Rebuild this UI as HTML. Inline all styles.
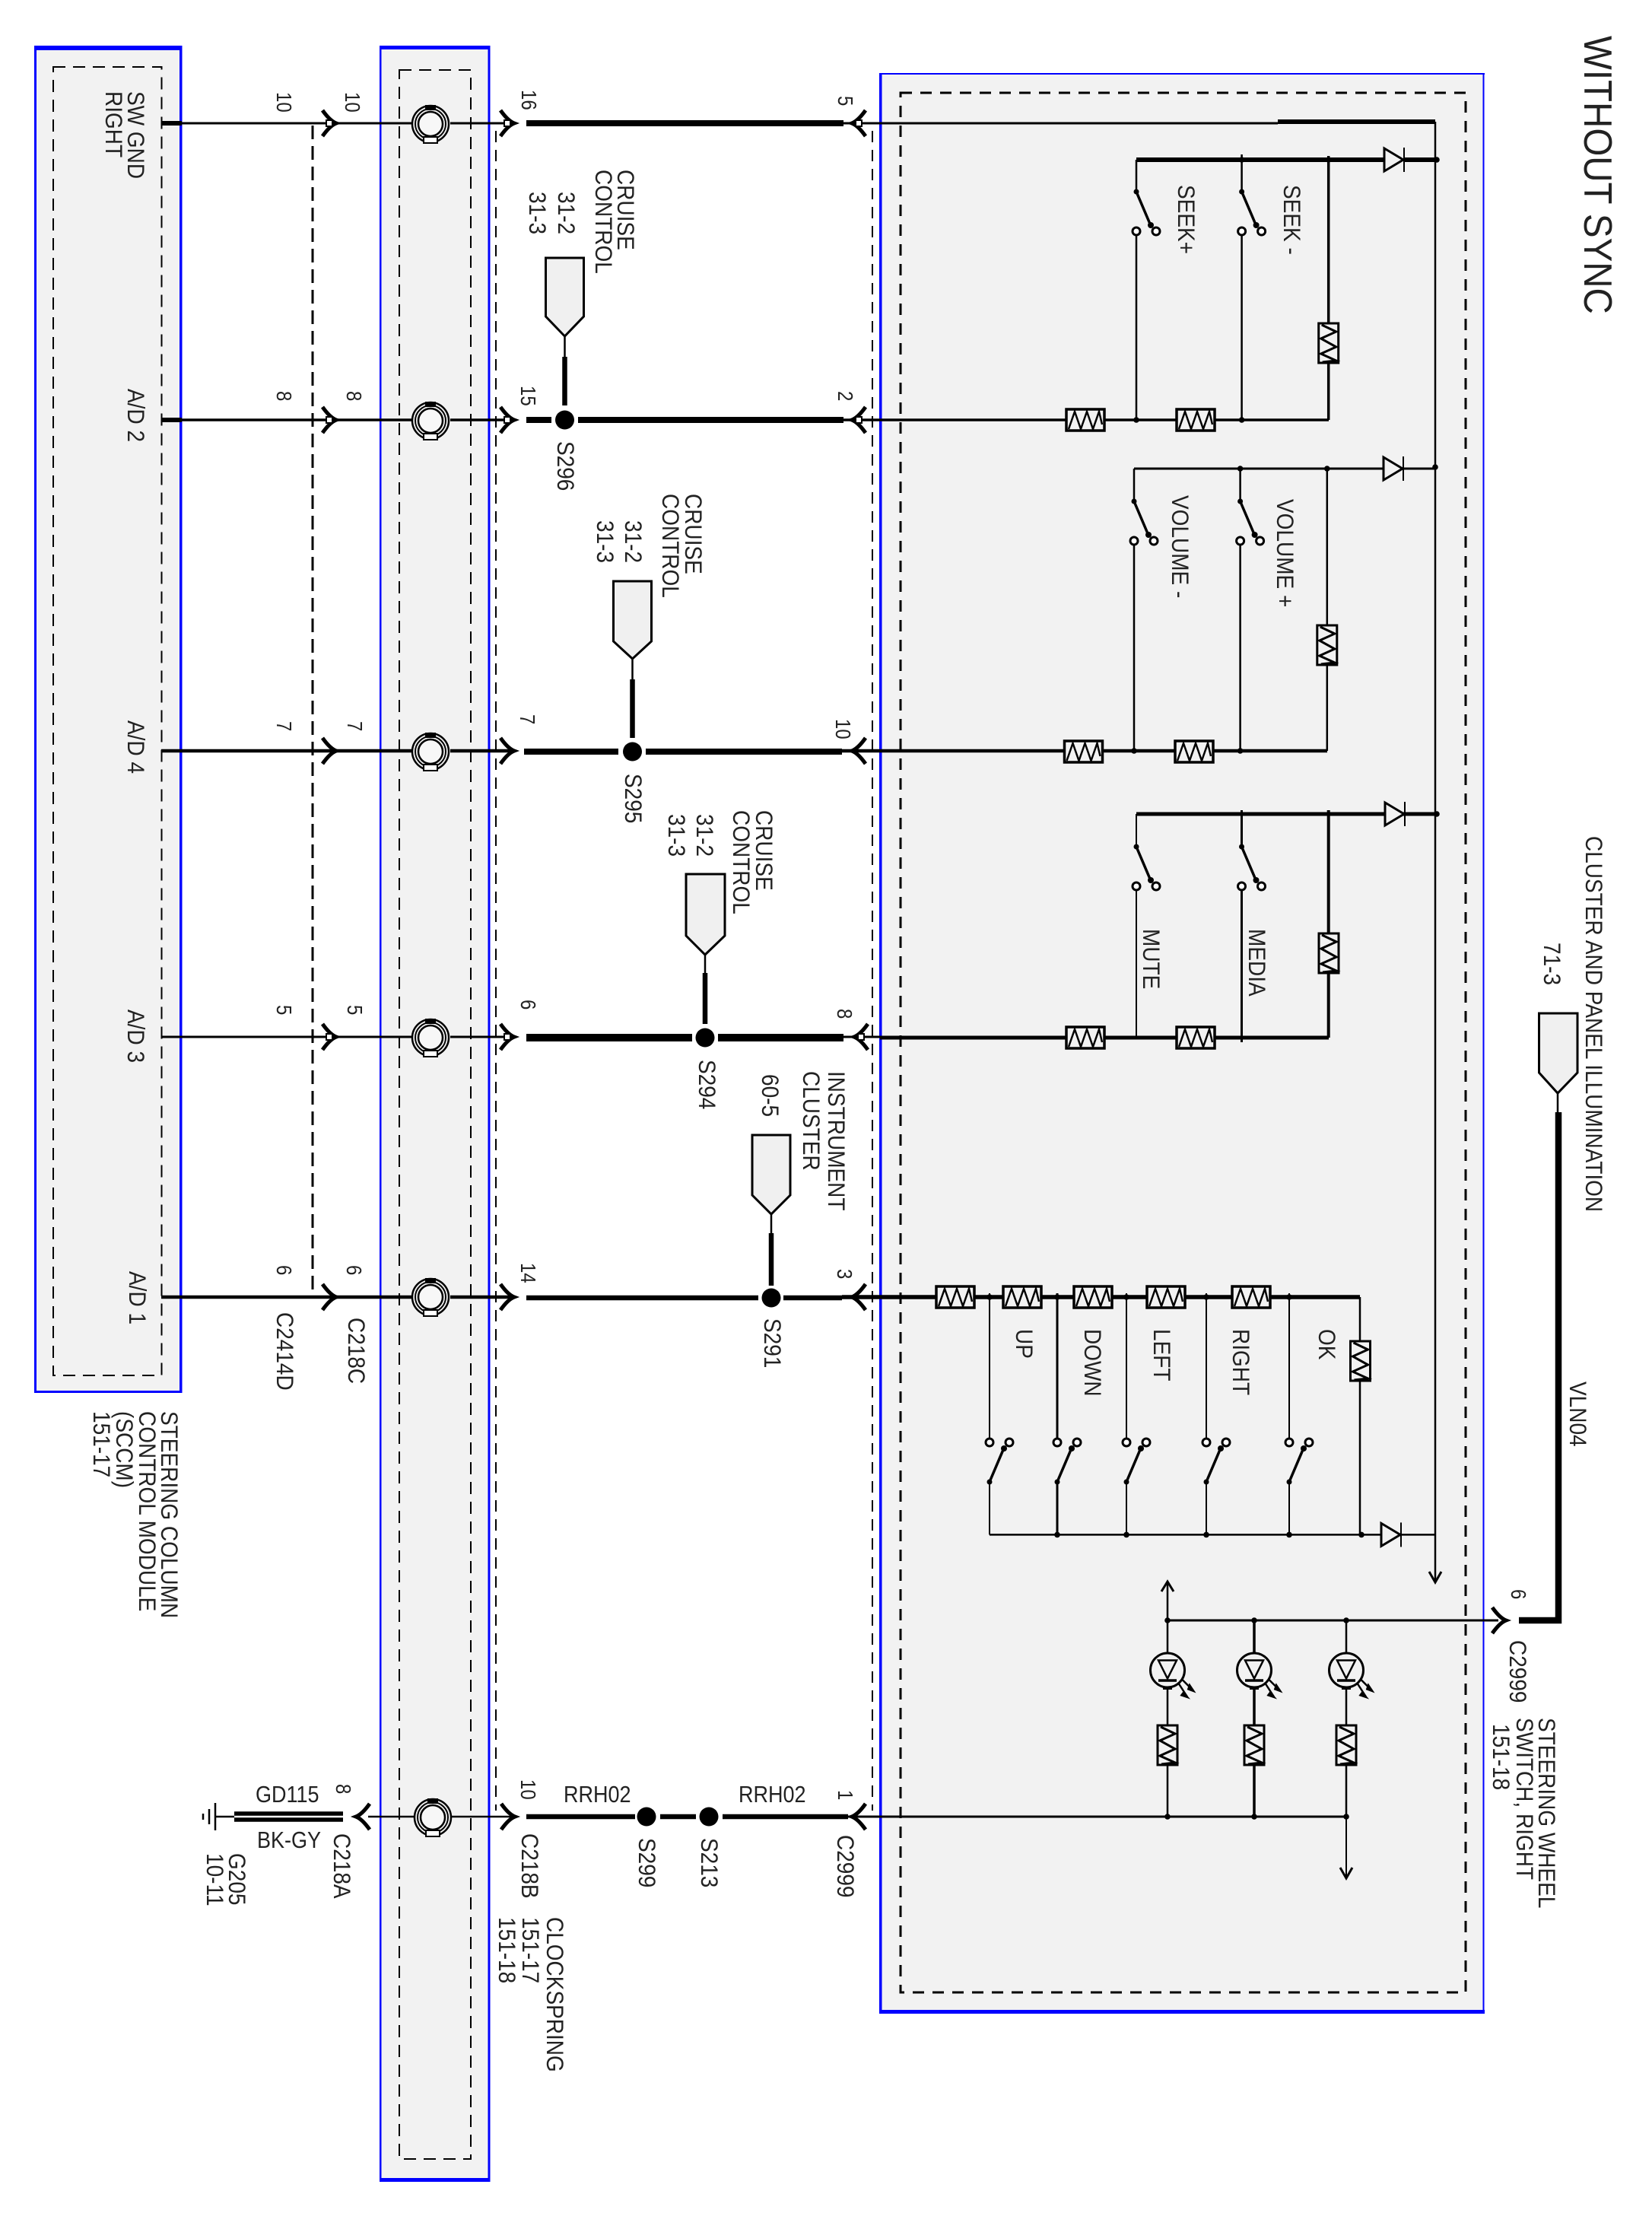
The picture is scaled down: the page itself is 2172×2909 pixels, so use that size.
<!DOCTYPE html>
<html><head><meta charset="utf-8"><title>Wiring diagram</title>
<style>
html,body{margin:0;padding:0;background:#fff}
svg{display:block}
text{font-family:"Liberation Sans",sans-serif;fill:#222}
.s{font-size:28px}.p{font-size:24px}.h{font-size:27px}
</style></head><body>
<svg width="2172" height="2909" viewBox="0 0 2172 2909" xmlns="http://www.w3.org/2000/svg">
<defs>
<g id="ar"><path d="M-18,-17Q-8,-3 0,0Q-8,3 -18,17" fill="none" stroke="#000" stroke-width="5"/></g>
<g id="sq"><rect x="-13" y="-4" width="8" height="8" fill="#fff" stroke="#000" stroke-width="2"/></g>
<g id="rh"><rect x="-25" y="-14" width="50" height="28" fill="#f2f2f2" stroke="#000" stroke-width="3.5"/><path d="M-22,12L-14,-11L-6,12L2,-11L10,12L18,-11L22,6" fill="none" stroke="#000" stroke-width="2.5"/></g>
<g id="rv"><rect x="-13" y="-26" width="26" height="52" fill="#f2f2f2" stroke="#000" stroke-width="3"/><path d="M-9,-24L10,-15L-10,-6L10,5L-10,14L10,23L-8,25" fill="none" stroke="#000" stroke-width="3"/></g>
<g id="sw"><circle cx="0" cy="0" r="3.5" fill="#000"/><path d="M0,0L20,47" stroke="#000" stroke-width="3.5"/><circle cx="19" cy="44" r="4" fill="#000"/><circle cx="0" cy="52" r="5" fill="#fff" stroke="#000" stroke-width="3"/><circle cx="26" cy="52" r="5" fill="#fff" stroke="#000" stroke-width="3"/></g>
<g id="di"><path d="M0,-15L25,0L0,15Z" fill="#f2f2f2" stroke="#000" stroke-width="3"/><path d="M26,-16V16" stroke="#000" stroke-width="2"/></g>
<g id="led"><circle cx="0" cy="0" r="22.5" fill="#f2f2f2" stroke="#000" stroke-width="3"/><path d="M-12,-13H12L0,11Z" fill="#f2f2f2" stroke="#000" stroke-width="2.5"/><path d="M-12,13.5H12" stroke="#000" stroke-width="3.5"/><path d="M-6,24H6" stroke="#000" stroke-width="3"/><path d="M20,13L34,27M15,18L26,35" stroke="#000" stroke-width="2.5" fill="none"/><path d="M29,19L35,28L27,25ZM21,29L27,36L18,33Z" fill="#000" stroke="#000" stroke-width="2"/></g>
<g id="coil"><circle r="24" fill="none" stroke="#000" stroke-width="2.5"/><circle r="20" fill="none" stroke="#000" stroke-width="2"/><circle r="16" fill="#f7f7f7" stroke="#000" stroke-width="2.5"/><rect x="-7" y="-25" width="14" height="7" fill="#000"/><rect x="-9" y="17" width="18" height="8" fill="#fff" stroke="#000" stroke-width="2"/></g>
<g id="d"><circle r="3.8" fill="#000"/></g>
</defs>

<!-- boxes -->
<rect x="46" y="60" width="193" height="1770" fill="#f2f2f2"/>
<rect x="500" y="60" width="144" height="2806" fill="#f2f2f2"/>
<rect x="1157" y="96" width="794" height="2549" fill="#f2f2f2"/>
<g fill="#0000ff">
<rect x="45" y="60" width="194" height="6"/><rect x="45" y="60" width="3" height="1771"/><rect x="236" y="60" width="3.5" height="1771"/><rect x="45" y="1828" width="194" height="3"/>
<rect x="499" y="60" width="145" height="5"/><rect x="499" y="60" width="2.5" height="2808"/><rect x="641.5" y="60" width="3" height="2808"/><rect x="499" y="2863" width="145" height="5"/>
<rect x="1156" y="96" width="796" height="2"/><rect x="1156" y="96" width="3.5" height="2551"/><rect x="1949.5" y="96" width="2" height="2551"/><rect x="1156" y="2642" width="796" height="5"/>
</g>
<!-- dashed -->
<g fill="none" stroke="#000">
<rect x="70" y="88" width="142.5" height="1720" stroke-width="2" stroke-dasharray="16 10"/>
<rect x="525" y="92" width="94" height="2746" stroke-width="2" stroke-dasharray="16 10"/>
<rect x="1184" y="122" width="743" height="2497" stroke-width="3" stroke-dasharray="15 11"/>
<path d="M411,165V1705" stroke-width="3" stroke-dasharray="18 9"/>
<path d="M652,172V2380M1147,172V2380" stroke-width="2" stroke-dasharray="15 10"/>
</g>

<!-- main rows -->
<g fill="none" stroke="#000">
<path d="M212,162H239M212,552H239" stroke-width="6"/>
<path d="M239,162H542M592,162H676M1109,162H1680" stroke-width="3"/>
<path d="M1680,160H1887" stroke-width="6"/>
<path d="M692,162H1109" stroke-width="8"/>
<path d="M239,552H542M592,552H676M1109,552H1747" stroke-width="3.5"/>
<path d="M692,552H725M760,552H1109" stroke-width="8"/>
<path d="M212,987H542M592,987H676M1107,987H1745" stroke-width="4.5"/>
<path d="M689,988H813M849,988H1107" stroke-width="8"/>
<path d="M212,1363H542M592,1363H676M1109,1363H1157" stroke-width="3"/>
<path d="M1157,1364H1747" stroke-width="5"/>
<path d="M692,1364H910M944,1364H1109" stroke-width="10"/>
<path d="M212,1705H542M592,1705H676" stroke-width="4.5"/>
<path d="M692,1706H997M1030,1706H1107" stroke-width="6.5"/>
<path d="M1107,1705H1788" stroke-width="5.5"/>
<path d="M484,2388H545M594,2388H677" stroke-width="2.5"/>
<path d="M692,2388H835M868,2388H915M950,2388H1115" stroke-width="6.5"/>
<path d="M1115,2388H1770" stroke-width="3"/>
<!-- connector stubs -->
<path d="M742.5,442V469M927,1255V1279M831.5,866V893M1014,1596V1621M2048,1437V1462" stroke-width="2.5"/>
<path d="M742.5,469V533M831.5,893V970M927,1279V1346M1014,1621V1690" stroke-width="6.5"/>
<path d="M1997,2130H2049V1462" stroke-width="8.5"/>
<!-- bus -->
<path d="M1887,160V2079" stroke-width="2.5"/>
<path d="M1535,2130H1970" stroke-width="3"/>
<path d="M1535,2130V2080" stroke-width="2.5"/>
<path d="M1770,2388V2468" stroke-width="2"/>
<path d="M1527,2092L1535,2079L1543,2092M1762,2455L1770,2469L1778,2455M1879,2066L1887,2080L1895,2066" stroke-width="3"/>
<!-- ground -->
<path d="M283,2388H308" stroke-width="2.5"/>
<path d="M283,2370V2406M275,2378V2398M267,2384V2392" stroke-width="2.5"/>
<path d="M308,2384H451M308,2392H451" stroke-width="5.5"/>
</g>

<!-- arrows -->
<use href="#ar" x="442" y="162"/><use href="#sq" x="442" y="162"/><use href="#ar" x="676" y="162"/><use href="#sq" x="676" y="162"/>
<use href="#ar" x="442" y="552"/><use href="#sq" x="442" y="552"/><use href="#ar" x="676" y="552"/><use href="#sq" x="676" y="552"/>
<use href="#ar" x="442" y="987"/><use href="#ar" x="676" y="987"/>
<use href="#ar" x="442" y="1363"/><use href="#sq" x="442" y="1363"/><use href="#ar" x="676" y="1363"/><use href="#sq" x="676" y="1363"/>
<use href="#ar" x="442" y="1705"/><use href="#ar" x="676" y="1705"/>
<use href="#ar" x="677" y="2388"/>
<use href="#ar" transform="translate(468 2388) scale(-1 1)"/>
<use href="#ar" x="1980" y="2130"/>
<use href="#ar" transform="translate(1120 162) scale(-1 1)"/><use href="#sq" transform="translate(1120 162) scale(-1 1)"/>
<use href="#ar" transform="translate(1120 552) scale(-1 1)"/><use href="#sq" transform="translate(1120 552) scale(-1 1)"/>
<use href="#ar" transform="translate(1120 987) scale(-1 1)"/>
<use href="#ar" transform="translate(1123 1363) scale(-1 1)"/><use href="#sq" transform="translate(1123 1363) scale(-1 1)"/>
<use href="#ar" transform="translate(1120 1705) scale(-1 1)"/>
<use href="#ar" transform="translate(1120 2388) scale(-1 1)"/>

<!-- coils -->
<use href="#coil" x="566" y="163"/><use href="#coil" x="566" y="553"/><use href="#coil" x="566" y="988"/>
<use href="#coil" x="566" y="1364"/><use href="#coil" x="566" y="1705"/><use href="#coil" x="569" y="2389"/>

<!-- splices -->
<g fill="#000">
<circle cx="742.5" cy="552" r="12.5"/><circle cx="831.5" cy="988" r="12.5"/><circle cx="927" cy="1364" r="12.5"/><circle cx="1014" cy="1706" r="12.5"/><circle cx="850" cy="2388" r="12.5"/><circle cx="932" cy="2388" r="12.5"/>
</g>

<!-- connectors -->
<g fill="#f0f0f0" stroke="#000" stroke-width="3">
<path d="M717.5,339H767.5V416L742.5,442L717.5,416Z"/>
<path d="M806.5,764H856.5V843L831.5,866L806.5,843Z"/>
<path d="M902,1149H953V1230L927,1255L902,1230Z"/>
<path d="M989,1492H1039V1571L1014,1596L989,1571Z"/>
<path d="M2023.5,1332H2074V1410L2048,1437L2023.5,1410Z"/>
</g>

<!-- seek group -->
<g fill="none" stroke="#000">
<path d="M1494,210H1820M1845,210H1889" stroke-width="6"/>
<path d="M1494,210V252M1494,305V552M1632.6,203V252M1632.6,305V552" stroke-width="2.5"/>
<path d="M1746.7,205V552" stroke-width="3.5"/>
<path d="M1491,616H1819M1844,616H1887" stroke-width="3"/>
<path d="M1491,616V659M1491,712V987M1630.6,616V659M1630.6,712V987M1744.8,616V987" stroke-width="2.5"/>
<path d="M1494,1070H1821M1845,1070H1889" stroke-width="5"/>
<path d="M1494,1070V1113M1494,1165V1364" stroke-width="2"/>
<path d="M1632.5,1065V1113M1632.5,1165V1370" stroke-width="3"/>
<path d="M1746.7,1065V1364" stroke-width="4"/>
<!-- d-pad -->
<path d="M1301,1700V1896M1301,1948V2017.4M1481,1700V1896M1481,1948V2017.4M1586,1700V1896M1586,1948V2017.4M1695,1700V1896M1695,1948V2017.4" stroke-width="2"/>
<path d="M1390,1700V1896M1390,1948V2017.4" stroke-width="3"/>
<path d="M1788,1705V2017.4" stroke-width="2.5"/>
<path d="M1301,2017.4H1816M1840,2017.4H1887" stroke-width="2.5"/>
<!-- led -->
<path d="M1535,2130V2388M1770,2130V2388" stroke-width="2.5"/>
<path d="M1649,2130V2388" stroke-width="3.5"/>
</g>

<use href="#di" x="1820" y="210"/><use href="#di" x="1819" y="616"/><use href="#di" x="1821" y="1070"/><use href="#di" x="1816" y="2017.4"/>
<use href="#sw" x="1494" y="252"/><use href="#sw" x="1632.6" y="252"/>
<use href="#sw" x="1491" y="659"/><use href="#sw" x="1630.6" y="659"/>
<use href="#sw" x="1494" y="1113"/><use href="#sw" x="1632.5" y="1113"/>
<use href="#sw" transform="translate(1301 1948) scale(1 -1)"/><use href="#sw" transform="translate(1390 1948) scale(1 -1)"/><use href="#sw" transform="translate(1481 1948) scale(1 -1)"/><use href="#sw" transform="translate(1586 1948) scale(1 -1)"/><use href="#sw" transform="translate(1695 1948) scale(1 -1)"/>

<use href="#rh" x="1427" y="552"/><use href="#rh" x="1572" y="552"/>
<use href="#rh" x="1424.5" y="988"/><use href="#rh" x="1570" y="988"/>
<use href="#rh" x="1427" y="1364"/><use href="#rh" x="1572" y="1364"/>
<use href="#rh" x="1256" y="1705"/><use href="#rh" x="1344" y="1705"/><use href="#rh" x="1437" y="1705"/><use href="#rh" x="1533" y="1705"/><use href="#rh" x="1645" y="1705"/>
<use href="#rv" x="1746.7" y="451"/><use href="#rv" x="1744.8" y="848"/><use href="#rv" x="1747" y="1253"/><use href="#rv" x="1788.5" y="1789"/>
<use href="#rv" x="1535" y="2294"/><use href="#rv" x="1649" y="2294"/><use href="#rv" x="1770" y="2294"/>
<use href="#led" x="1535" y="2195.5"/><use href="#led" x="1649" y="2195.5"/><use href="#led" x="1770" y="2195.5"/>

<use href="#d" x="1494" y="552"/><use href="#d" x="1632.6" y="552"/><use href="#d" x="1889" y="210"/><use href="#d" x="1632.6" y="210"/><use href="#d" x="1746.7" y="210"/>
<use href="#d" x="1491" y="987"/><use href="#d" x="1630.6" y="987"/><use href="#d" x="1630.6" y="616"/><use href="#d" x="1744.8" y="616"/><use href="#d" x="1887" y="614"/><use href="#d" x="1889" y="1070"/>
<use href="#d" x="1301" y="1705"/><use href="#d" x="1390" y="1705"/><use href="#d" x="1481" y="1705"/><use href="#d" x="1586" y="1705"/><use href="#d" x="1695" y="1705"/>
<use href="#d" x="1390" y="2017.4"/><use href="#d" x="1481" y="2017.4"/><use href="#d" x="1586" y="2017.4"/><use href="#d" x="1695" y="2017.4"/><use href="#d" x="1790" y="2017.4"/>
<use href="#d" x="1535" y="2130"/><use href="#d" x="1649" y="2130"/><use href="#d" x="1770" y="2130"/><use href="#d" x="1535" y="2388"/><use href="#d" x="1649" y="2388"/><use href="#d" x="1770" y="2388"/>

<!-- horizontal text -->
<text class="h" transform="translate(741 2369) scale(1 1.14)">RRH02</text>
<text class="h" transform="translate(971 2369) scale(1 1.14)">RRH02</text>
<text class="h" transform="translate(336 2369) scale(1 1.14)">GD115</text>
<text class="h" transform="translate(338 2429) scale(1 1.14)">BK-GY</text>

<!-- rotated text -->
<text font-size="47.5" transform="translate(2083 47) rotate(90) scale(1 1.1)">WITHOUT SYNC</text>
<text class="s" transform="translate(168 120) rotate(90) scale(1 1.14)">SW GND</text>
<text class="s" transform="translate(139 120) rotate(90) scale(1 1.14)">RIGHT</text>
<text class="s" transform="translate(168 511) rotate(90) scale(1 1.14)">A/D 2</text>
<text class="s" transform="translate(168 947) rotate(90) scale(1 1.14)">A/D 4</text>
<text class="s" transform="translate(168 1327) rotate(90) scale(1 1.14)">A/D 3</text>
<text class="s" transform="translate(170 1671) rotate(90) scale(1 1.14)">A/D 1</text>

<text class="p" transform="translate(364 121) rotate(90) scale(1 1.14)">10</text>
<text class="p" transform="translate(454 121) rotate(90) scale(1 1.14)">10</text>
<text class="p" transform="translate(686 118) rotate(90) scale(1 1.14)">16</text>
<text class="p" transform="translate(1102 126) rotate(90) scale(1 1.14)">5</text>
<text class="p" transform="translate(364 514) rotate(90) scale(1 1.14)">8</text>
<text class="p" transform="translate(456 514) rotate(90) scale(1 1.14)">8</text>
<text class="p" transform="translate(685 507) rotate(90) scale(1 1.14)">15</text>
<text class="p" transform="translate(1102 514) rotate(90) scale(1 1.14)">2</text>
<text class="p" transform="translate(364 948) rotate(90) scale(1 1.14)">7</text>
<text class="p" transform="translate(457 948) rotate(90) scale(1 1.14)">7</text>
<text class="p" transform="translate(684 939) rotate(90) scale(1 1.14)">7</text>
<text class="p" transform="translate(1099 945) rotate(90) scale(1 1.14)">10</text>
<text class="p" transform="translate(364 1321) rotate(90) scale(1 1.14)">5</text>
<text class="p" transform="translate(457 1321) rotate(90) scale(1 1.14)">5</text>
<text class="p" transform="translate(685 1314) rotate(90) scale(1 1.14)">6</text>
<text class="p" transform="translate(1101 1326) rotate(90) scale(1 1.14)">8</text>
<text class="p" transform="translate(364 1663) rotate(90) scale(1 1.14)">6</text>
<text class="p" transform="translate(456 1663) rotate(90) scale(1 1.14)">6</text>
<text class="p" transform="translate(685 1660) rotate(90) scale(1 1.14)">14</text>
<text class="p" transform="translate(1101 1668) rotate(90) scale(1 1.14)">3</text>
<text class="p" transform="translate(442 2345) rotate(90) scale(1 1.14)">8</text>
<text class="p" transform="translate(685 2339) rotate(90) scale(1 1.14)">10</text>
<text class="p" transform="translate(1102 2353) rotate(90) scale(1 1.14)">1</text>
<text class="p" transform="translate(1987 2089) rotate(90) scale(1 1.14)">6</text>

<text class="s" transform="translate(812 223) rotate(90) scale(1 1.14)">CRUISE</text>
<text class="s" transform="translate(783 223) rotate(90) scale(1 1.14)">CONTROL</text>
<text class="s" transform="translate(734 252) rotate(90) scale(1 1.14)">31-2</text>
<text class="s" transform="translate(696 252) rotate(90) scale(1 1.14)">31-3</text>
<text class="s" transform="translate(733 580) rotate(90) scale(1 1.14)">S296</text>

<text class="s" transform="translate(901 649) rotate(90) scale(1 1.14)">CRUISE</text>
<text class="s" transform="translate(871 649) rotate(90) scale(1 1.14)">CONTROL</text>
<text class="s" transform="translate(822 684) rotate(90) scale(1 1.14)">31-2</text>
<text class="s" transform="translate(785 684) rotate(90) scale(1 1.14)">31-3</text>
<text class="s" transform="translate(822 1017) rotate(90) scale(1 1.14)">S295</text>

<text class="s" transform="translate(994 1065) rotate(90) scale(1 1.14)">CRUISE</text>
<text class="s" transform="translate(964 1065) rotate(90) scale(1 1.14)">CONTROL</text>
<text class="s" transform="translate(916 1070) rotate(90) scale(1 1.14)">31-2</text>
<text class="s" transform="translate(879 1070) rotate(90) scale(1 1.14)">31-3</text>
<text class="s" transform="translate(919 1393) rotate(90) scale(1 1.14)">S294</text>

<text class="s" transform="translate(1089 1408) rotate(90) scale(1 1.14)">INSTRUMENT</text>
<text class="s" transform="translate(1056 1408) rotate(90) scale(1 1.14)">CLUSTER</text>
<text class="s" transform="translate(1002 1412) rotate(90) scale(1 1.14)">60-5</text>
<text class="s" transform="translate(1005 1733) rotate(90) scale(1 1.14)">S291</text>

<text class="s" transform="translate(364 1725) rotate(90) scale(1 1.14)">C2414D</text>
<text class="s" transform="translate(458 1732) rotate(90) scale(1 1.14)">C218C</text>
<text class="s" transform="translate(212 1855) rotate(90) scale(1 1.14)">STEERING COLUMN</text>
<text class="s" transform="translate(183 1855) rotate(90) scale(1 1.14)">CONTROL MODULE</text>
<text class="s" transform="translate(153 1855) rotate(90) scale(1 1.14)">(SCCM)</text>
<text class="s" transform="translate(123 1855) rotate(90) scale(1 1.14)">151-17</text>

<text class="s" transform="translate(439 2410) rotate(90) scale(1 1.14)">C218A</text>
<text class="s" transform="translate(686 2410) rotate(90) scale(1 1.14)">C218B</text>
<text class="s" transform="translate(840 2416) rotate(90) scale(1 1.14)">S299</text>
<text class="s" transform="translate(922 2416) rotate(90) scale(1 1.14)">S213</text>
<text class="s" transform="translate(719 2520) rotate(90) scale(1 1.14)">CLOCKSPRING</text>
<text class="s" transform="translate(687 2520) rotate(90) scale(1 1.14)">151-17</text>
<text class="s" transform="translate(656 2520) rotate(90) scale(1 1.14)">151-18</text>
<text class="s" transform="translate(301 2436) rotate(90) scale(1 1.14)">G205</text>
<text class="s" transform="translate(272 2436) rotate(90) scale(1 1.14)">10-11</text>

<text class="s" transform="translate(1549 243) rotate(90) scale(1 1.14)">SEEK+</text>
<text class="s" transform="translate(1688 243) rotate(90) scale(1 1.14)">SEEK -</text>
<text class="s" transform="translate(1541 651) rotate(90) scale(1 1.14)">VOLUME -</text>
<text class="s" transform="translate(1679 656) rotate(90) scale(1 1.14)">VOLUME +</text>
<text class="s" transform="translate(1503 1221) rotate(90) scale(1 1.14)">MUTE</text>
<text class="s" transform="translate(1642 1221) rotate(90) scale(1 1.14)">MEDIA</text>
<text class="s" transform="translate(1336 1747) rotate(90) scale(1 1.14)">UP</text>
<text class="s" transform="translate(1426 1747) rotate(90) scale(1 1.14)">DOWN</text>
<text class="s" transform="translate(1517 1747) rotate(90) scale(1 1.14)">LEFT</text>
<text class="s" transform="translate(1621 1747) rotate(90) scale(1 1.14)">RIGHT</text>
<text class="s" transform="translate(1734 1747) rotate(90) scale(1 1.14)">OK</text>

<text class="s" transform="translate(1101 2412) rotate(90) scale(1 1.14)">C2999</text>
<text class="s" transform="translate(1985 2156) rotate(90) scale(1 1.14)">C2999</text>
<text class="s" transform="translate(2064 1816) rotate(90) scale(1 1.14)">VLN04</text>
<text class="s" transform="translate(2023 2258) rotate(90) scale(1 1.14)">STEERING WHEEL</text>
<text class="s" transform="translate(1994 2258) rotate(90) scale(1 1.14)">SWITCH, RIGHT</text>
<text class="s" transform="translate(1963 2266) rotate(90) scale(1 1.14)">151-18</text>
<text class="s" transform="translate(2085 1099) rotate(90) scale(1 1.14)">CLUSTER AND PANEL ILLUMINATION</text>
<text class="s" transform="translate(2030 1239) rotate(90) scale(1 1.14)">71-3</text>
</svg>
</body></html>
